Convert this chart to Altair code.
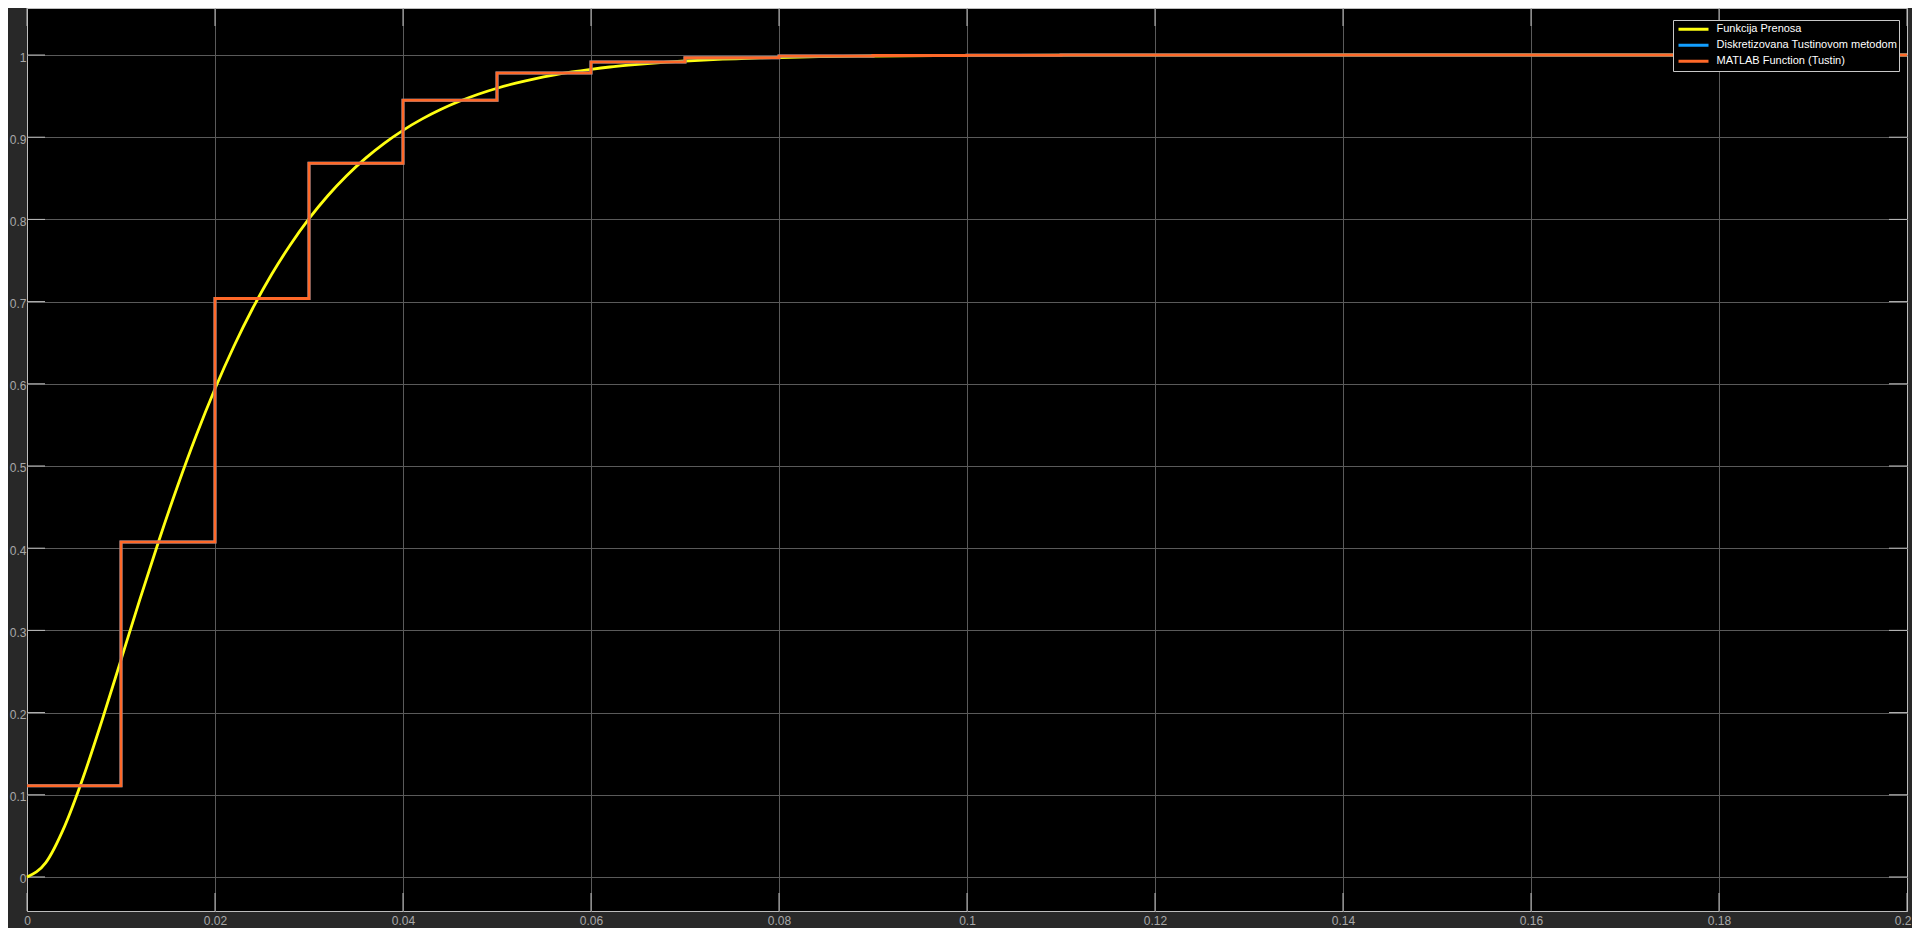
import altair as alt
import pandas as pd

# ---- data ----
series_names = ["\u00a0Funkcija Prenosa", "Diskretizovana Tustinovom metodom", "MATLAB Function (Tustin)"]
series_colors = ["#FFFF11", "#139FFF", "#FF6929"]

# continuous transfer-function response (yellow)
t_cont = [0.000, 0.002, 0.004, 0.006, 0.008, 0.010, 0.012, 0.014, 0.016, 0.018,
          0.020, 0.022, 0.024, 0.026, 0.028, 0.030, 0.032, 0.034, 0.036, 0.038,
          0.040, 0.042, 0.044, 0.046, 0.048, 0.050, 0.052, 0.054, 0.056, 0.058,
          0.060, 0.062, 0.064, 0.066, 0.068, 0.070, 0.072, 0.074, 0.076, 0.078,
          0.080, 0.085, 0.090, 0.100, 0.120, 0.140, 0.200]
y_cont = [0.0000, 0.0175, 0.0616, 0.1219, 0.1912, 0.2642, 0.3374, 0.4082, 0.4751, 0.5372,
          0.5940, 0.6454, 0.6916, 0.7326, 0.7689, 0.8009, 0.8288, 0.8532, 0.8743, 0.8926,
          0.9084, 0.9220, 0.9337, 0.9437, 0.9523, 0.9596, 0.9658, 0.9711, 0.9756, 0.9794,
          0.9826, 0.9854, 0.9877, 0.9897, 0.9913, 0.9927, 0.9939, 0.9949, 0.9957, 0.9964,
          0.9970, 0.9981, 0.9988, 0.9995, 0.9999, 1.0000, 1.0000]

# discrete (Tustin, T = 0.01) step responses (blue = orange, orange drawn on top)
t_disc = [0.00, 0.01, 0.02, 0.03, 0.04, 0.05, 0.06, 0.07, 0.08, 0.09, 0.10,
          0.11, 0.12, 0.13, 0.14, 0.15, 0.16, 0.17, 0.18, 0.19, 0.20]
y_tustin = [0.1111, 0.4074, 0.7037, 0.8683, 0.9451, 0.9781, 0.9915, 0.9967, 0.9988, 0.9995, 0.9998,
            1.0, 1.0, 1.0, 1.0, 1.0, 1.0, 1.0, 1.0, 1.0, 1.0]
y_matlab = [0.1111, 0.4074, 0.7037, 0.8683, 0.9451, 0.9781, 0.9915, 0.9967, 0.9988, 0.9995, 0.9998,
            1.0, 1.0, 1.0, 1.0, 1.0, 1.0, 1.0, 1.0, 1.0, 1.0]

x_ticks = [0, 0.02, 0.04, 0.06, 0.08, 0.1, 0.12, 0.14, 0.16, 0.18, 0.2]
y_ticks = [0, 0.1, 0.2, 0.3, 0.4, 0.5, 0.6, 0.7, 0.8, 0.9, 1]

x_domain = [0, 0.2]
y_domain = [-0.0414, 1.0572]

# ---- tables ----
df_cont = pd.DataFrame({"t": t_cont, "y": y_cont, "series": series_names[0]})
df_tus = pd.DataFrame({"t": t_disc, "y": y_tustin, "series": series_names[1]})
df_mat = pd.DataFrame({"t": t_disc, "y": y_matlab, "series": series_names[2]})
df_xt = pd.DataFrame({"t": x_ticks})
df_yt = pd.DataFrame({"y": y_ticks})

W, H = 1880, 903
TICK = 18
FRAME = "#bdbdbd"
GRID = "#5a5a5a"

xs = alt.Scale(domain=x_domain, nice=False, zero=False)
ys = alt.Scale(domain=y_domain, nice=False, zero=False)

x_axis = alt.Axis(
    values=x_ticks, format="~g", title=None, orient="bottom",
    labelAlign=alt.condition("datum.value >= 0.2", alt.value("right"), alt.value("center")),
    labelOffset=alt.condition("datum.value >= 0.2", alt.value(4), alt.value(0)),
    labelBaseline="top", labelPadding=4,
    gridColor=alt.condition("datum.value <= 0 || datum.value >= 0.2", alt.value(FRAME), alt.value(GRID)),
)
y_axis = alt.Axis(
    values=y_ticks, format="~g", title=None, orient="left",
    labelAlign="right", labelBaseline="middle", labelPadding=1, labelOffset=2,
)

def X():
    return alt.X("t:Q", scale=xs, axis=x_axis)

def Y():
    return alt.Y("y:Q", scale=ys, axis=y_axis)

color = alt.Color(
    "series:N",
    scale=alt.Scale(domain=series_names, range=series_colors),
    legend=alt.Legend(
        title=None, orient="none", legendX=1646, legendY=12,
        symbolType="stroke", symbolSize=900, symbolStrokeWidth=3,
        symbolOffset=2.5, labelOffset=6.5, clipHeight=15.3, rowPadding=0,
        padding=1.5, fillColor="#000000", strokeColor="#c8c8c8",
        labelColor="#ffffff", labelFont="Liberation Sans", labelFontSize=11,
        labelLimit=400,
    ),
)

cont = alt.Chart(df_cont).mark_line(strokeWidth=2.8, interpolate="monotone").encode(
    x=X(), y=Y(), color=color)
tus = alt.Chart(df_tus).mark_line(strokeWidth=3, interpolate="step-after").encode(
    x=X(), y=Y(), color=color)
mat = alt.Chart(df_mat).mark_line(strokeWidth=3, interpolate="step-after").encode(
    x=X(), y=Y(), color=color)

tick_b = alt.Chart(df_xt).mark_rule(color=FRAME, strokeWidth=1).encode(
    x=X(), y=alt.value(H - TICK), y2=alt.value(H))
tick_t = alt.Chart(df_xt).mark_rule(color=FRAME, strokeWidth=1).encode(
    x=X(), y=alt.value(0), y2=alt.value(TICK))
tick_l = alt.Chart(df_yt).mark_rule(color=FRAME, strokeWidth=1).encode(
    y=Y(), x=alt.value(0), x2=alt.value(TICK))
tick_r = alt.Chart(df_yt).mark_rule(color=FRAME, strokeWidth=1).encode(
    y=Y(), x=alt.value(W - TICK), x2=alt.value(W))

chart = alt.layer(tick_b, tick_t, tick_l, tick_r, cont, tus, mat).properties(
    width=W, height=H,
    autosize=alt.AutoSizeParams(type="none"),
    padding={"left": 19, "top": 0, "right": 5, "bottom": 17},
    background="#282828",
).configure_view(
    fill="#000000", stroke=FRAME, strokeWidth=1,
).configure_axis(
    labelColor="#a9a9a9", labelFont="Liberation Sans", labelFontSize=12,
    ticks=False, domain=False, grid=True, gridWidth=1, gridOpacity=1,
    gridColor=GRID,
)

chart.save("out.html", embed_options={"renderer": "svg", "actions": False})
